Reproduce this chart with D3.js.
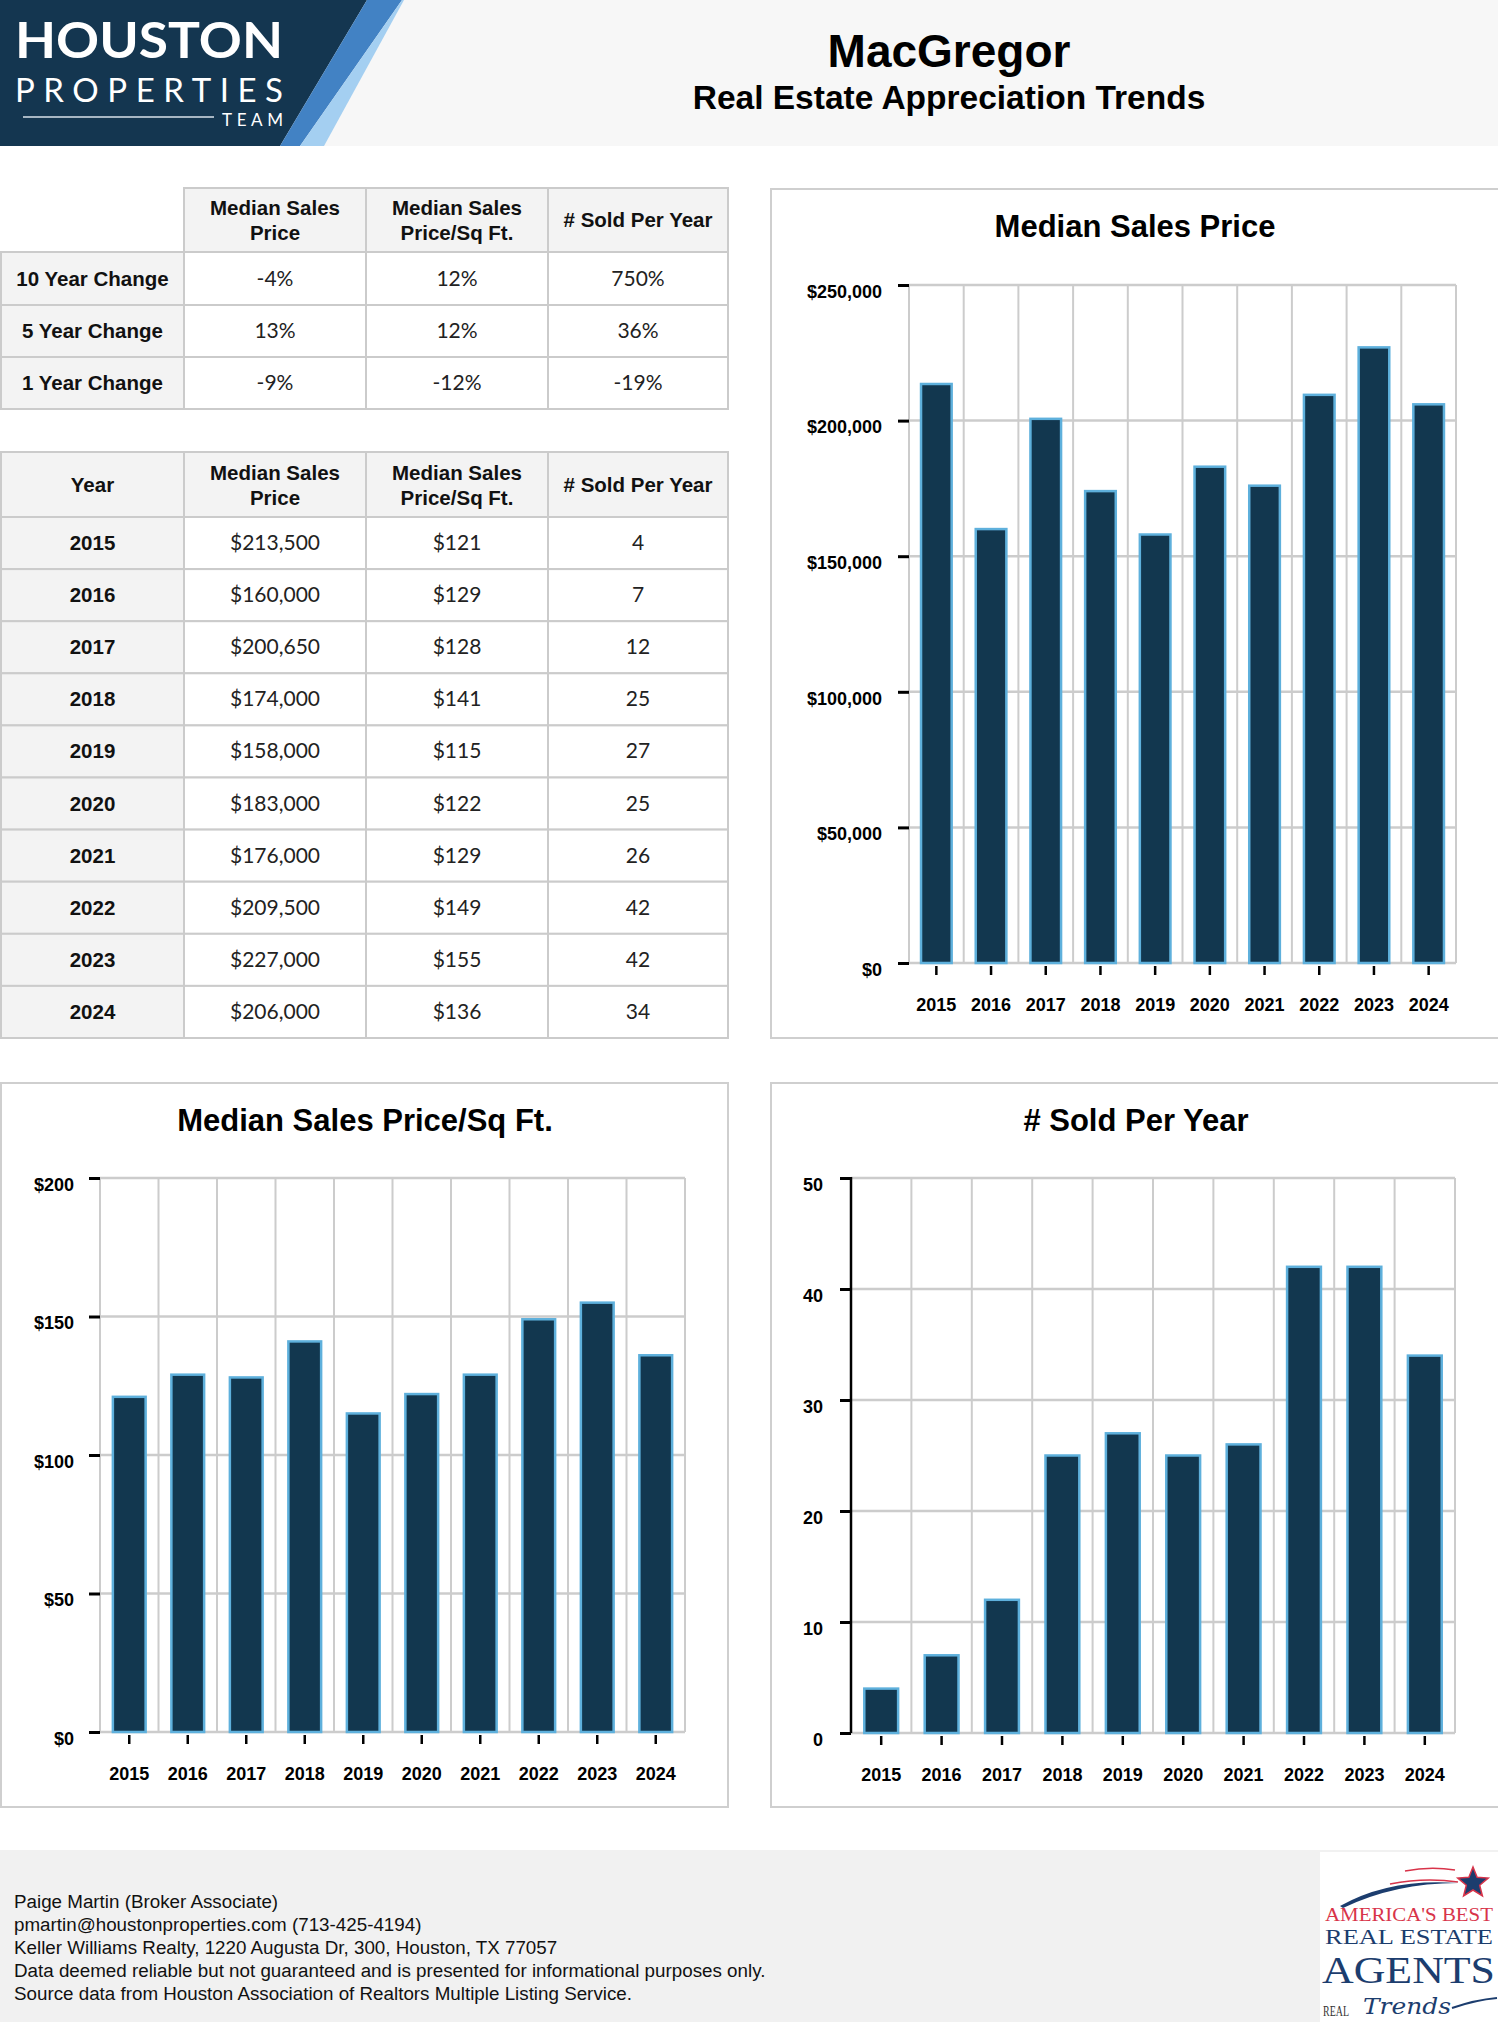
<!DOCTYPE html>
<html>
<head>
<meta charset="utf-8">
<script src="https://cdn.jsdelivr.net/npm/d3@7"></script>
<style>
  html, body { margin: 0; padding: 0; background: #ffffff; }
  svg { display: block; }
</style>
</head>
<body>
<svg id="page" width="1498" height="2022"></svg>
<script>
// ---------------- DATA ----------------
const years = ["2015", "2016", "2017", "2018", "2019", "2020", "2021", "2022", "2023", "2024"];
const medianPrice = [213500, 160000, 200650, 174000, 158000, 183000, 176000, 209500, 227000, 206000];
const pricePerSqft = [121, 129, 128, 141, 115, 122, 129, 149, 155, 136];
const soldPerYear = [4, 7, 12, 25, 27, 25, 26, 42, 42, 34];

const changeLabels = ["10 Year Change", "5 Year Change", "1 Year Change"];
const changePrice = ["-4%", "13%", "-9%"];
const changeSqft = ["12%", "12%", "-12%"];
const changeSold = ["750%", "36%", "-19%"];

const columnHeaders = [["Median Sales", "Price"], ["Median Sales", "Price/Sq Ft."], ["# Sold Per Year"]];
const yearHeader = ["Year"];

const priceTicks = [0, 50000, 100000, 150000, 200000, 250000];
const sqftTicks = [0, 50, 100, 150, 200];
const soldTicks = [0, 10, 20, 30, 40, 50];

const footerLines = [
  "Paige Martin (Broker Associate)",
  "pmartin@houstonproperties.com (713-425-4194)",
  "Keller Williams Realty, 1220 Augusta Dr, 300, Houston, TX 77057",
  "Data deemed reliable but not guaranteed and is presented for informational purposes only.",
  "Source data from Houston Association of Realtors Multiple Listing Service."
];

// ---------------- STYLE ----------------
const SANS = "'Liberation Sans', Arial, Helvetica, sans-serif";
const VALF = "Lato, 'Open Sans', sans-serif";
const SERIF = "'Liberation Serif', 'DejaVu Serif', serif";
const NAVY = "#12374f";
const BAR_STROKE = "#5eb0dc";
const GRID = "#cccccc";
const BORDER = "#cbcbcb";

const svg = d3.select("#page");

// ---------------- HEADER ----------------
svg.append("rect").attr("x", 0).attr("y", 0).attr("width", 1498).attr("height", 146).attr("fill", "#f7f7f7");
const logo = svg.append("g");
logo.append("polygon").attr("points", "0,0 367,0 280,146 0,146").attr("fill", "#143650");
logo.append("polygon").attr("points", "367,0 402,0 300,146 280,146").attr("fill", "#4282c4");
logo.append("polygon").attr("points", "402,0 404,0 324,146 300,146").attr("fill", "#a4cff1");
logo.append("line").attr("x1", 23).attr("x2", 214).attr("y1", 117).attr("y2", 117)
  .attr("stroke", "#d8e2ea").attr("stroke-width", 1.5);
logo.append("text").attr("fill", "#fff").attr("font-family", "Lato, 'Open Sans', sans-serif")
  .attr("x", 15).attr("y", 58).attr("font-weight", 700).attr("font-size", 50)
  .attr("textLength", 268).attr("lengthAdjust", "spacingAndGlyphs").text("HOUSTON");
logo.append("text").attr("fill", "#fff").attr("font-family", "Lato, 'Open Sans', sans-serif")
  .attr("x", 15).attr("y", 101.5).attr("font-weight", 400).attr("font-size", 33)
  .attr("textLength", 268).attr("lengthAdjust", "spacing").text("PROPERTIES");
logo.append("text").attr("fill", "#fff").attr("font-family", "Lato, 'Open Sans', sans-serif")
  .attr("x", 222).attr("y", 125.5).attr("font-weight", 400).attr("font-size", 17)
  .attr("textLength", 61).attr("lengthAdjust", "spacing").text("TEAM");

svg.append("text").attr("x", 949).attr("y", 67).attr("text-anchor", "middle")
  .attr("font-family", SANS).attr("font-weight", 700).attr("font-size", 46).attr("fill", "#000").text("MacGregor");
svg.append("text").attr("x", 949).attr("y", 109).attr("text-anchor", "middle")
  .attr("font-family", SANS).attr("font-weight", 700).attr("font-size", 33.5).attr("fill", "#000")
  .text("Real Estate Appreciation Trends");

// ---------------- TABLES ----------------
const colX = [1, 184, 366, 548, 728];

function cell(g, x0, x1, y0, y1, fill) {
  g.append("rect").attr("x", x0).attr("y", y0).attr("width", x1 - x0).attr("height", y1 - y0)
    .attr("fill", fill).attr("stroke", BORDER).attr("stroke-width", 2);
}
function headerText(g, lines, cx, cy) {
  if (lines.length === 1) {
    g.append("text").attr("x", cx).attr("y", cy + 7).attr("text-anchor", "middle")
      .attr("font-family", SANS).attr("font-weight", 700).attr("font-size", 20.5).attr("fill", "#111").text(lines[0]);
  } else {
    lines.forEach((t, i) => {
      g.append("text").attr("x", cx).attr("y", cy - 5 + i * 25).attr("text-anchor", "middle")
        .attr("font-family", SANS).attr("font-weight", 700).attr("font-size", 20.5).attr("fill", "#111").text(t);
    });
  }
}
function labelText(g, t, cx, cy) {
  g.append("text").attr("x", cx).attr("y", cy + 7).attr("text-anchor", "middle")
    .attr("font-family", SANS).attr("font-weight", 700).attr("font-size", 20.5).attr("fill", "#111").text(t);
}
function valueText(g, t, cx, cy) {
  g.append("text").attr("x", cx).attr("y", cy + 7).attr("text-anchor", "middle")
    .attr("font-family", VALF).attr("font-weight", 400).attr("font-size", 21).attr("fill", "#222").text(t);
}

// Table 1: changes
(function () {
  const g = svg.append("g");
  const rowY = [188, 252, 305, 357, 409];
  for (let c = 1; c < 4; c++) {
    cell(g, colX[c], colX[c + 1], rowY[0], rowY[1], "#f3f3f3");
    headerText(g, columnHeaders[c - 1], (colX[c] + colX[c + 1]) / 2, (rowY[0] + rowY[1]) / 2);
  }
  const cols = [changePrice, changeSqft, changeSold];
  changeLabels.forEach((lab, r) => {
    const y0 = rowY[r + 1], y1 = rowY[r + 2], cy = (y0 + y1) / 2;
    cell(g, colX[0], colX[1], y0, y1, "#f3f3f3");
    labelText(g, lab, (colX[0] + colX[1]) / 2, cy);
    cols.forEach((arr, c) => {
      cell(g, colX[c + 1], colX[c + 2], y0, y1, "#ffffff");
      valueText(g, arr[r], (colX[c + 1] + colX[c + 2]) / 2, cy);
    });
  });
})();

// Table 2: yearly values
(function () {
  const g = svg.append("g");
  const top = 452, headBot = 517, rowH = (1038 - 517) / years.length;
  const heads = [yearHeader].concat(columnHeaders);
  heads.forEach((h, c) => {
    cell(g, colX[c], colX[c + 1], top, headBot, "#f3f3f3");
    headerText(g, h, (colX[c] + colX[c + 1]) / 2, (top + headBot) / 2);
  });
  const fmtP = d3.format("$,");
  years.forEach((yr, r) => {
    const y0 = headBot + r * rowH, y1 = y0 + rowH, cy = (y0 + y1) / 2;
    cell(g, colX[0], colX[1], y0, y1, "#f3f3f3");
    labelText(g, yr, (colX[0] + colX[1]) / 2, cy);
    const vals = [fmtP(medianPrice[r]), fmtP(pricePerSqft[r]), String(soldPerYear[r])];
    vals.forEach((v, c) => {
      cell(g, colX[c + 1], colX[c + 2], y0, y1, "#ffffff");
      valueText(g, v, (colX[c + 1] + colX[c + 2]) / 2, cy);
    });
  });
})();

// ---------------- CHARTS ----------------
function drawChart(cfg) {
  const g = svg.append("g");
  g.append("rect").attr("x", cfg.box[0]).attr("y", cfg.box[1]).attr("width", cfg.box[2]).attr("height", cfg.box[3])
    .attr("fill", "#fff").attr("stroke", "#cfcfcf").attr("stroke-width", 2);
  g.append("text").attr("x", cfg.titleX).attr("y", cfg.titleY).attr("text-anchor", "middle")
    .attr("font-family", SANS).attr("font-weight", 700).attr("font-size", 31).attr("fill", "#000").text(cfg.title);

  const x = d3.scaleBand().domain(years).range([cfg.x0, cfg.x1]).paddingInner(0).paddingOuter(0);
  const xb = d3.scaleBand().domain(years).range([cfg.x0, cfg.x1]).paddingInner(0.44).paddingOuter(0.22);
  const y = d3.scaleLinear().domain([0, cfg.max]).range([cfg.yBot, cfg.yTop]);

  g.append("g").selectAll("line").data(cfg.ticks).join("line")
    .attr("x1", cfg.x0).attr("x2", cfg.x1).attr("y1", d => y(d)).attr("y2", d => y(d))
    .attr("stroke", GRID).attr("stroke-width", 2.5);
  const bounds = years.map(d => x(d)).concat([cfg.x1]);
  g.append("g").selectAll("line").data(bounds).join("line")
    .attr("x1", d => d).attr("x2", d => d).attr("y1", cfg.yTop).attr("y2", cfg.yBot)
    .attr("stroke", GRID).attr("stroke-width", 2);

  g.append("g").selectAll("rect").data(cfg.values).join("rect")
    .attr("x", (d, i) => xb(years[i])).attr("width", xb.bandwidth())
    .attr("y", d => y(d)).attr("height", d => cfg.yBot - y(d))
    .attr("fill", NAVY).attr("stroke", BAR_STROKE).attr("stroke-width", 2.5);

  if (cfg.blackAxis) {
    g.append("line").attr("x1", cfg.x0).attr("x2", cfg.x0).attr("y1", cfg.yTop - 1).attr("y2", cfg.yBot)
      .attr("stroke", "#000").attr("stroke-width", 2.5);
  }

  const ya = g.append("g").attr("transform", `translate(${cfg.x0},0)`)
    .call(d3.axisLeft(y).tickValues(cfg.ticks).tickSize(11).tickPadding(cfg.labelGap).tickFormat(cfg.fmt));
  ya.select(".domain").remove();
  ya.selectAll(".tick line").attr("stroke", "#000").attr("stroke-width", 3);
  ya.selectAll(".tick text").attr("dy", "0.68em").attr("fill", "#000")
    .attr("font-family", SANS).attr("font-weight", 700).attr("font-size", 18);

  const xa = g.append("g").attr("transform", `translate(0,${cfg.yBot + 3})`)
    .call(d3.axisBottom(x).tickSize(9).tickPadding(0));
  xa.select(".domain").remove();
  xa.selectAll(".tick line").attr("stroke", "#000").attr("stroke-width", 2.5);
  xa.selectAll(".tick text").attr("y", 45).attr("dy", "0").attr("fill", "#000")
    .attr("font-family", SANS).attr("font-weight", 700).attr("font-size", 18);
}

drawChart({
  box: [771, 189, 740, 849], title: "Median Sales Price", titleX: 1135, titleY: 237,
  x0: 909, x1: 1456, yTop: 285, yBot: 963, max: 250000, ticks: priceTicks,
  fmt: d3.format("$,"), values: medianPrice, labelGap: 16, blackAxis: false
});
drawChart({
  box: [1, 1083, 727, 724], title: "Median Sales Price/Sq Ft.", titleX: 365, titleY: 1131,
  x0: 100, x1: 685, yTop: 1178, yBot: 1732, max: 200, ticks: sqftTicks,
  fmt: d3.format("$,"), values: pricePerSqft, labelGap: 15, blackAxis: false
});
drawChart({
  box: [771, 1083, 740, 724], title: "# Sold Per Year", titleX: 1136, titleY: 1131,
  x0: 851, x1: 1455, yTop: 1178, yBot: 1733, max: 50, ticks: soldTicks,
  fmt: d3.format("d"), values: soldPerYear, labelGap: 17, blackAxis: true
});

// ---------------- FOOTER ----------------
svg.append("rect").attr("x", 0).attr("y", 1850).attr("width", 1498).attr("height", 172).attr("fill", "#f1f1f1");
svg.append("g").selectAll("text").data(footerLines).join("text")
  .attr("x", 14).attr("y", (d, i) => 1908 + i * 22.9)
  .attr("font-family", SANS).attr("font-size", 18.8).attr("fill", "#111").text(d => d);

// badge logo
const bl = svg.append("g");
bl.append("rect").attr("x", 1320).attr("y", 1852).attr("width", 178).attr("height", 170).attr("fill", "#fff");
bl.append("path").attr("d", "M1405,1871 Q1430,1866 1455,1870").attr("fill", "none").attr("stroke", "#d8344a").attr("stroke-width", 1.5);
bl.append("path").attr("d", "M1390,1884 Q1425,1877 1458,1882").attr("fill", "none").attr("stroke", "#d8344a").attr("stroke-width", 1.5);
bl.append("path").attr("d", "M1340,1906 Q1390,1878 1458,1883 Q1395,1883 1343,1908 Z").attr("fill", "#1c3d6e");
const star = d3.range(10).map(i => {
  const a = -Math.PI / 2 + i * Math.PI / 5, r = i % 2 ? 7 : 16;
  return [1473 + r * Math.cos(a), 1883 + r * Math.sin(a)];
});
bl.append("polygon").attr("points", star.map(p => p.join(",")).join(" "))
  .attr("fill", "#1c3d6e").attr("stroke", "#d8344a").attr("stroke-width", 1.5);
bl.append("text").attr("x", 1325).attr("y", 1921).attr("font-family", SERIF)
  .attr("font-size", 19).attr("fill", "#d8344a").attr("textLength", 168).attr("lengthAdjust", "spacingAndGlyphs").text("AMERICA'S BEST");
bl.append("text").attr("x", 1325).attr("y", 1944).attr("font-family", SERIF)
  .attr("font-size", 21).attr("fill", "#1c3d6e").attr("textLength", 168).attr("lengthAdjust", "spacingAndGlyphs").text("REAL ESTATE");
bl.append("text").attr("x", 1322).attr("y", 1983).attr("font-family", SERIF)
  .attr("font-size", 37).attr("fill", "#1c3d6e").attr("textLength", 173).attr("lengthAdjust", "spacingAndGlyphs").text("AGENTS");
bl.append("text").attr("x", 1323).attr("y", 2016).attr("font-family", SERIF).attr("font-size", 14).attr("fill", "#333")
  .attr("textLength", 26).attr("lengthAdjust", "spacingAndGlyphs").text("REAL");
bl.append("text").attr("x", 1363).attr("y", 2014).attr("font-family", "'DejaVu Serif', serif").attr("font-style", "italic")
  .attr("font-size", 22).attr("fill", "#1c3d6e").attr("textLength", 88).attr("lengthAdjust", "spacingAndGlyphs").text("Trends");
bl.append("path").attr("d", "M1452,2008 Q1475,2000 1497,1998").attr("fill", "none").attr("stroke", "#1c3d6e").attr("stroke-width", 2);
</script>
</body>
</html>
